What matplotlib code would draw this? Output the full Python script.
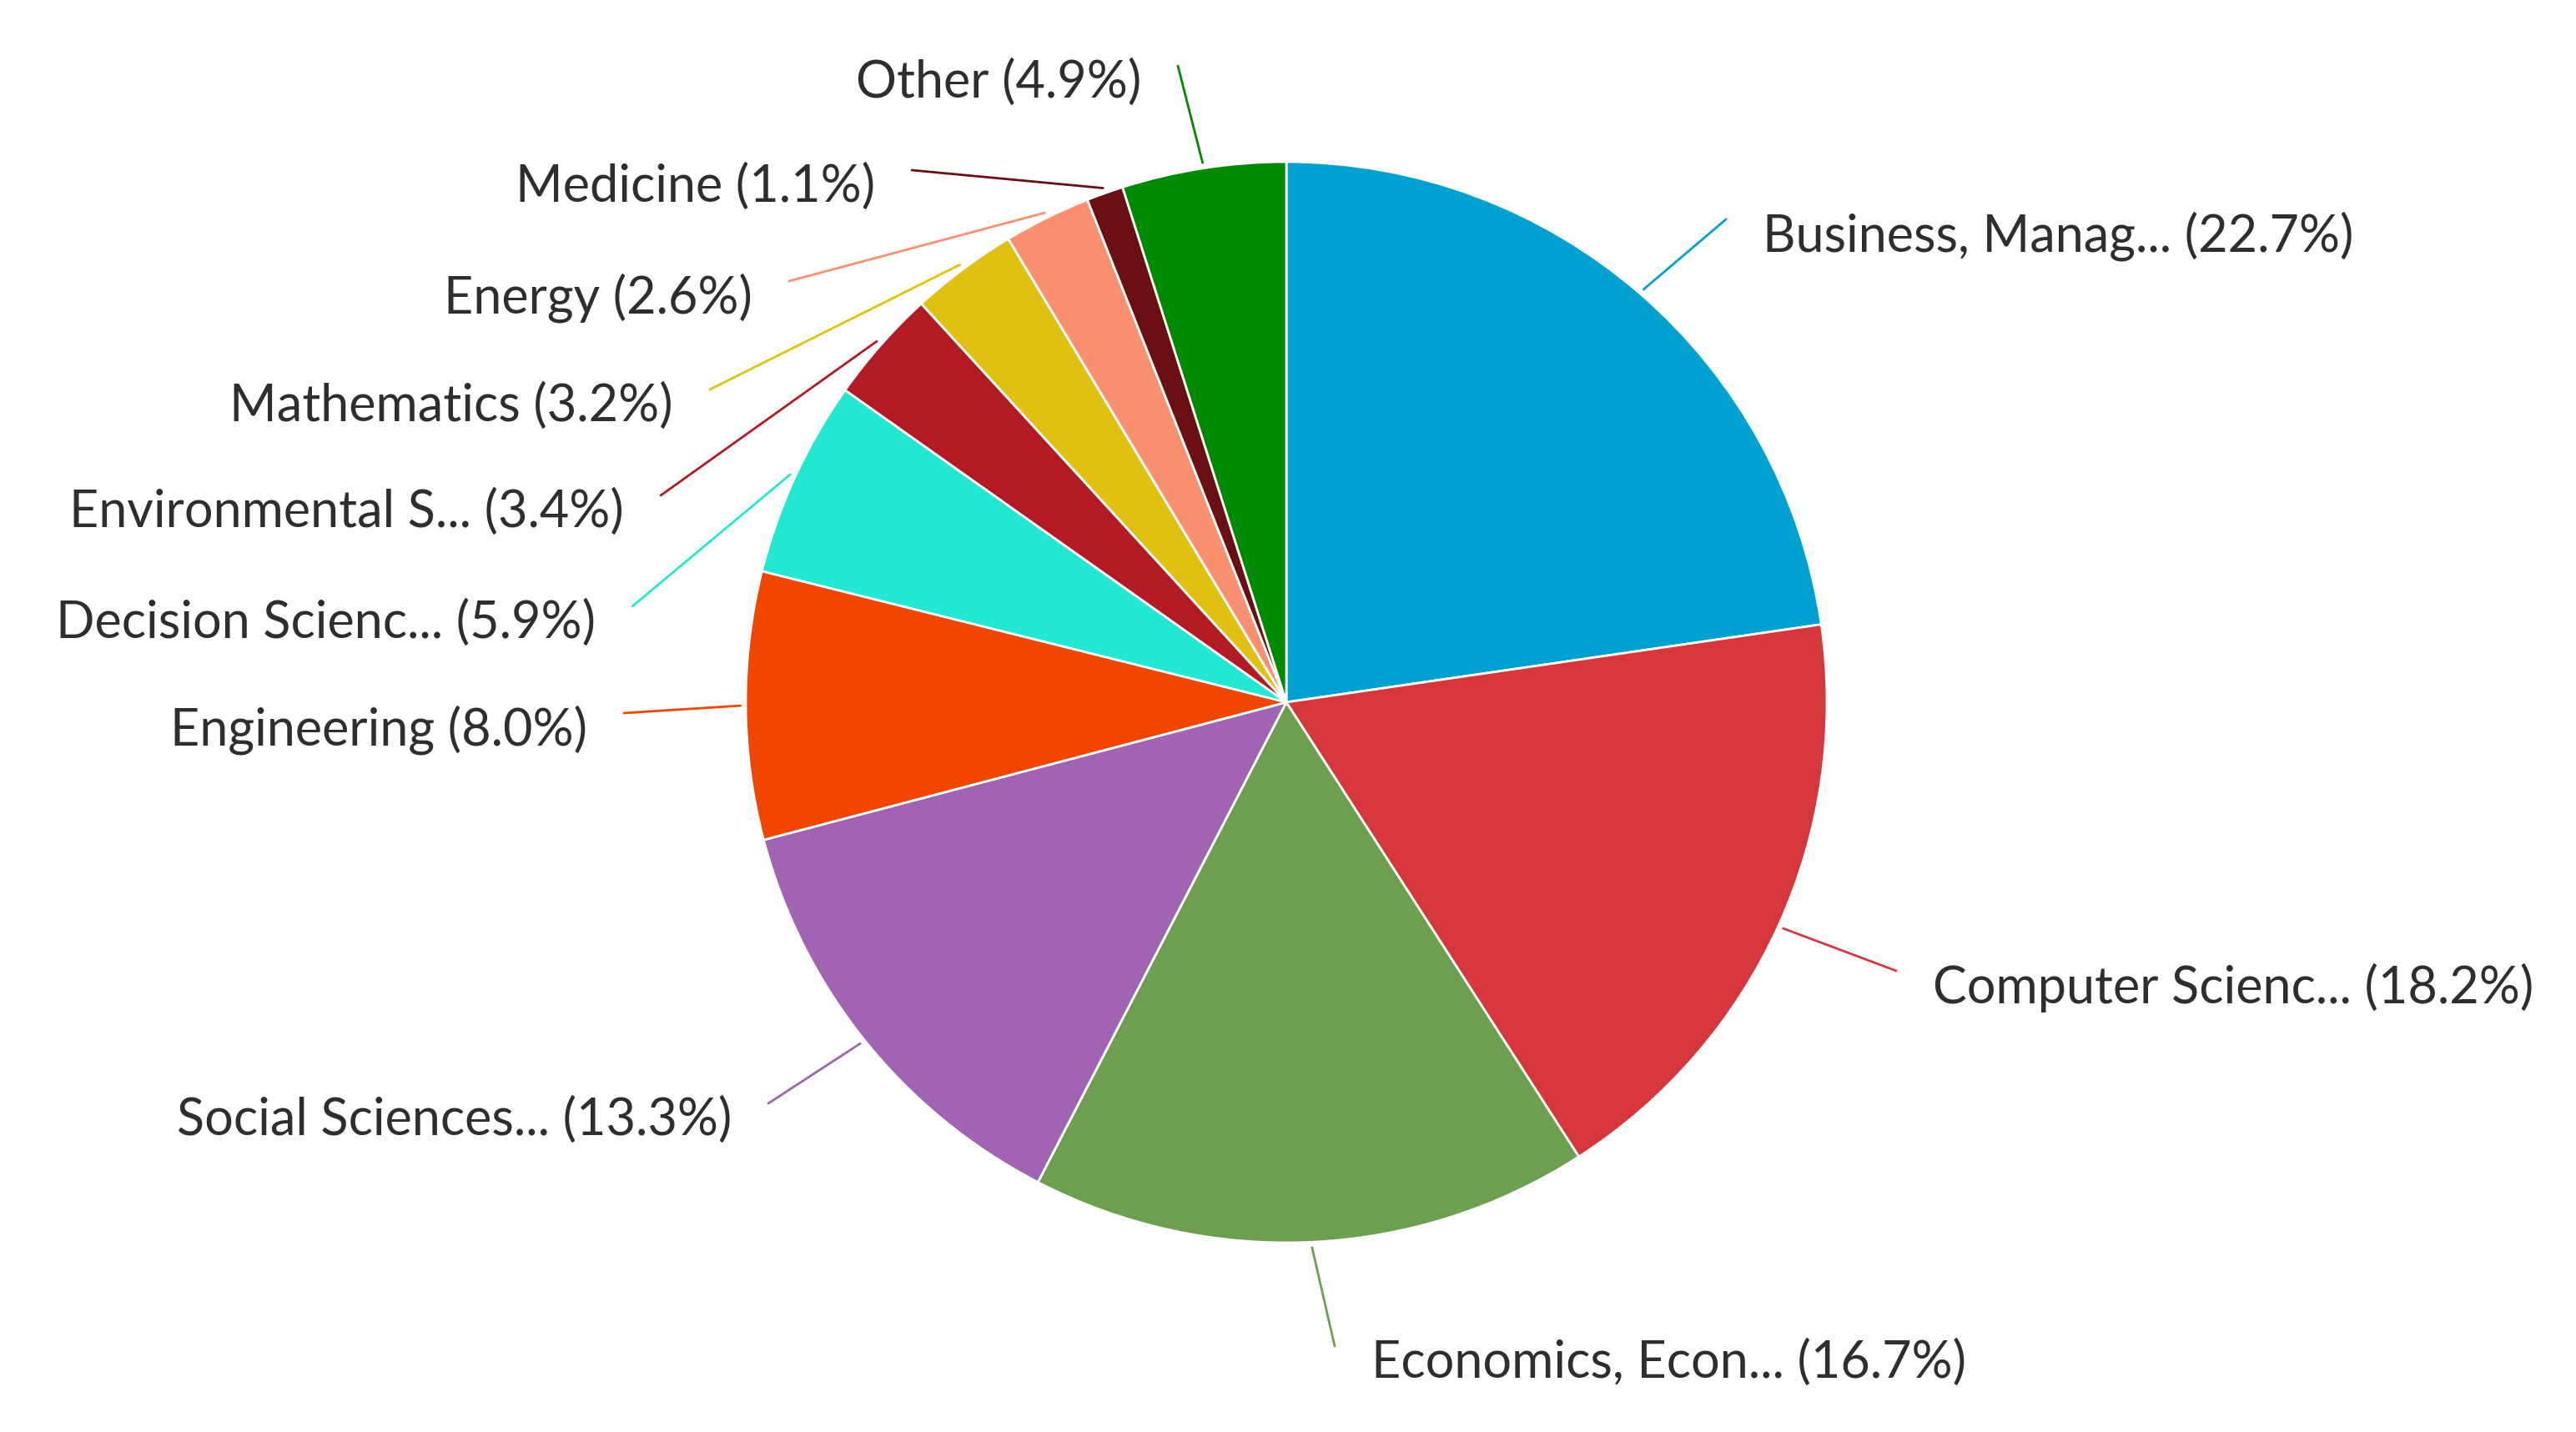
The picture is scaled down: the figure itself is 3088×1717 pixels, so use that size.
"""
Subject area pie chart with leader-line labels
"""
import matplotlib.pyplot as plt
import numpy as np

# Data (clockwise from 12 o'clock)
subjects = ['Business, Manag...', 'Computer Scienc...', 'Economics, Econ...',
            'Social Sciences...', 'Engineering', 'Decision Scienc...',
            'Environmental S...', 'Mathematics', 'Energy', 'Medicine', 'Other']
shares = [22.7, 18.2, 16.7, 13.3, 8.0, 5.9, 3.4, 3.2, 2.6, 1.1, 4.9]
colors = ['#00A0D0', '#D6373D', '#6CA050', '#A064B2', '#F04600', '#22E8D2',
          '#B21A24', '#E0C010', '#FA9070', '#6A1014', '#008A00']

# Layout, in output pixels (y measured from top)
W, H = 3088, 1717
cx, cy, radius = 1542, 842, 648
label_ends = [(2069, 263), (2273, 1164), (1600, 1614), (921, 1323), (748, 855),
              (758, 727), (792, 594), (851, 467), (946, 337), (1093, 204), (1412, 79)]

plt.rcParams['font.family'] = ['Lato', 'DejaVu Sans']

fig = plt.figure(figsize=(W / 100, H / 100), dpi=100)
ax = fig.add_axes([0, 0, 1, 1])

wedges, _ = ax.pie(shares, colors=colors, startangle=90, counterclock=False,
                   center=(cx, H - cy), radius=radius,
                   wedgeprops=dict(edgecolor='white', linewidth=2))

# pie() resets the limits, so set them afterwards
ax.set_xlim(0, W)
ax.set_ylim(0, H)
ax.set_aspect('equal')
ax.axis('off')

for w, name, val, col, (ex, ey) in zip(wedges, subjects, shares, colors, label_ends):
    mid = np.deg2rad((w.theta1 + w.theta2) / 2)
    sx = cx + radius * 1.01 * np.cos(mid)
    sy = (H - cy) + radius * 1.01 * np.sin(mid)
    ax.plot([sx, ex], [sy, H - ey], color=col, lw=2, solid_capstyle='round')
    right_side = ex > cx
    tx = ex + 44 if right_side else ex - 44
    ax.text(tx, H - ey - 20, f'{name} ({val:.1f}%)', fontsize=44,
            color='#2E2E2E', ha='left' if right_side else 'right', va='center')

plt.savefig('out.png', dpi=100, facecolor='white')
plt.close()
